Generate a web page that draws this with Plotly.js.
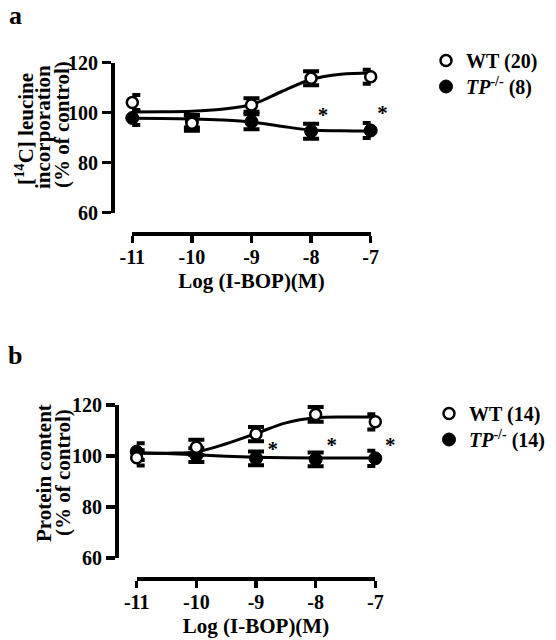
<!DOCTYPE html>
<html><head><meta charset="utf-8">
<script src="https://cdn.plot.ly/plotly-3.0.1.min.js"></script>
<style>html,body{margin:0;padding:0;background:#fff}</style>
</head><body>
<div id="chart" style="width:556px;height:640px"></div>
<script>
// ---- shared ----
const doses = [-11, -10, -9, -8, -7];
const xTickLabels = ['-11', '-10', '-9', '-8', '-7'];
const yTickVals = [60, 80, 100, 120];
const fitX = [-11, -10.5, -10, -9.5, -9, -8.5, -8, -7.5, -7];

// ---- panel a: [14C] leucine incorporation ----
const wtA = [104.0, 95.7, 103.0, 113.7, 114.3];
const wtAErr = [3.0, 3.0, 2.7, 2.8, 2.8];
const koA = [97.8, 96.5, 96.3, 92.5, 92.8];
const koAErr = [2.8, 2.5, 3.0, 3.0, 3.0];
const wtAFit = [100.2, 100.3, 100.5, 101.3, 103.2, 108.3, 113.2, 115.3, 115.8];
const koAFit = [97.7, 97.6, 97.4, 97.0, 96.2, 94.5, 93.0, 92.7, 92.6];
const starAX = [-7.8, -6.8];
const starAY = [98.5, 99.0];

// ---- panel b: protein content ----
const wtB = [99.3, 103.4, 108.6, 116.3, 113.4];
const wtBErr = [3.0, 3.0, 2.8, 2.9, 3.0];
const koB = [101.7, 100.3, 99.1, 98.7, 99.1];
const koBErr = [3.3, 2.7, 2.7, 2.7, 3.0];
const wtBFit = [101.1, 101.1, 101.6, 104.8, 108.8, 113.0, 115.0, 115.3, 115.3];
const koBFit = [101.3, 101.0, 100.5, 99.9, 99.5, 99.3, 99.2, 99.2, 99.2];
const starBX = [-8.72, -7.73, -6.75];
const starBY = [102.2, 103.6, 103.6];

const names = {wtA: 'WT (20)', koA: '<i>TP</i><sup>-/-</sup> (8)', wtB: 'WT (14)', koB: '<i>TP</i><sup>-/-</sup> (14)'};

function fitTrace(x, y, xa, ya) {
  return {x: x, y: y, xaxis: xa, yaxis: ya, mode: 'lines', type: 'scatter',
    line: {color: 'black', width: 3, shape: 'spline', smoothing: 1}, showlegend: false, hoverinfo: 'skip', cliponaxis: false};
}
function ptTrace(x, y, err, xa, ya, name, filled, legend) {
  return {x: x, y: y, xaxis: xa, yaxis: ya, mode: 'markers', type: 'scatter', name: name, legend: legend,
    cliponaxis: false,
    marker: filled ? {symbol: 'circle', size: 13, color: 'black', line: {color: 'black', width: 1}}
                   : {symbol: 'circle', size: 11, color: 'white', line: {color: 'black', width: 2.5}},
    error_y: {type: 'data', array: err, visible: true, color: 'black', thickness: 4, width: 8}};
}
function starTrace(x, y, xa, ya) {
  return {x: x, y: y, xaxis: xa, yaxis: ya, mode: 'text', type: 'scatter', text: x.map(() => '*'),
    textposition: 'middle center', textfont: {size: 21, color: 'black', family: 'Liberation Serif'},
    showlegend: false, hoverinfo: 'skip', cliponaxis: false};
}

const data = [
  fitTrace(fitX, wtAFit, 'x', 'y'),
  fitTrace(fitX, koAFit, 'x', 'y'),
  ptTrace(doses, koA, koAErr, 'x', 'y', names.koA, true, 'legend2'),
  ptTrace(doses, wtA, wtAErr, 'x', 'y', names.wtA, false, 'legend'),
  starTrace(starAX, starAY, 'x3', 'y'),
  fitTrace(fitX, wtBFit, 'x2', 'y2'),
  fitTrace(fitX, koBFit, 'x2', 'y2'),
  ptTrace(doses, koB, koBErr, 'x2', 'y2', names.koB, true, 'legend4'),
  ptTrace(doses, wtB, wtBErr, 'x2', 'y2', names.wtB, false, 'legend3'),
  starTrace(starBX, starBY, 'x4', 'y2')
];

const W = 556, H = 640;
const axBase = {showline: true, linewidth: 3.5, linecolor: 'black', ticks: 'outside', tickwidth: 3.5, tickcolor: 'black',
  showgrid: false, zeroline: false, fixedrange: true, anchor: 'free'};
const xFont = {size: 20, weight: 'bold', family: 'Liberation Serif', color: 'black'};
const yFont = {size: 20, weight: 'bold', family: 'Liberation Serif', color: 'black'};
const titleFont = {size: 21, weight: 'bold', family: 'Liberation Serif', color: 'black'};

function xAx(x0, x1, ypx) {
  return Object.assign({}, axBase, {domain: [x0 / W, x1 / W], range: [doses[0], doses[doses.length - 1]],
    position: 1 - ypx / H, tickvals: doses, ticktext: xTickLabels, ticklen: 7, tickfont: xFont,
    ticklabelstandoff: -3,
    title: {text: 'Log (I-BOP)(M)', font: titleFont, standoff: 6}});
}
// hidden axis with the same scale, a little wider on the right, for the significance asterisks
function xStarAx(x0, x1, ypx) {
  const lo = doses[0], hi = doses[doses.length - 1];
  const pxPerUnit = (x1 - x0) / (hi - lo);
  const extra = 0.5;
  return {domain: [x0 / W, (x1 + extra * pxPerUnit) / W], range: [lo, hi + extra], visible: false,
    anchor: 'free', position: 1 - ypx / H, fixedrange: true, showgrid: false, zeroline: false};
}
function yAx(ytop, ybot, xpx) {
  return Object.assign({}, axBase, {domain: [1 - ybot / H, 1 - ytop / H], range: [60, 120],
    position: xpx / W, tickvals: yTickVals, ticklen: 9, tickfont: yFont});
}

function ann(text, xpx, ypx, size, angle) {
  return {text: text, x: xpx / W, y: 1 - ypx / H, xref: 'paper', yref: 'paper', showarrow: false,
    xanchor: 'center', yanchor: 'middle', textangle: angle || 0,
    font: {size: size, weight: 'bold', family: 'Liberation Serif', color: 'black'}};
}

const legendBase = {font: {size: 20, weight: 'bold', family: 'Liberation Serif', color: 'black'},
  xanchor: 'left', yanchor: 'top', bgcolor: 'rgba(0,0,0,0)', borderwidth: 0, tracegroupgap: 0, itemclick: false};
function leg(xpx, ypx) { return Object.assign({}, legendBase, {x: xpx / W, y: 1 - ypx / H}); }

const layout = {
  width: W, height: H, margin: {l: 0, r: 0, t: 0, b: 0},
  paper_bgcolor: 'white', plot_bgcolor: 'rgba(0,0,0,0)',
  font: {family: 'Liberation Serif', size: 20, color: 'black', weight: 'bold'},
  showlegend: true,
  xaxis: xAx(132.3, 370.7, 233.3),
  yaxis: yAx(62.5, 212.5, 112),
  xaxis2: xAx(136.7, 375.3, 578.3),
  yaxis2: yAx(405, 558, 116),
  xaxis3: xStarAx(132.3, 370.7, 233.3),
  xaxis4: xStarAx(136.7, 375.3, 578.3),
  legend: leg(426, 41),
  legend2: leg(426, 67),
  legend3: leg(429, 394),
  legend4: leg(429, 420),
  annotations: [
    ann('a', 15, 15, 26),
    ann('b', 15, 355, 26),
    ann('[<sup>14</sup>C] leucine', 24, 129, 21, -90),
    ann('incorporation', 43, 127, 21, -90),
    ann('(% of control)', 62, 125, 21, -90),
    ann('Protein content', 44, 473, 21, -90),
    ann('(% of control)', 63, 473, 21, -90)
  ]
};

Plotly.newPlot('chart', data, layout, {displayModeBar: false, staticPlot: true});
</script>
</body></html>
